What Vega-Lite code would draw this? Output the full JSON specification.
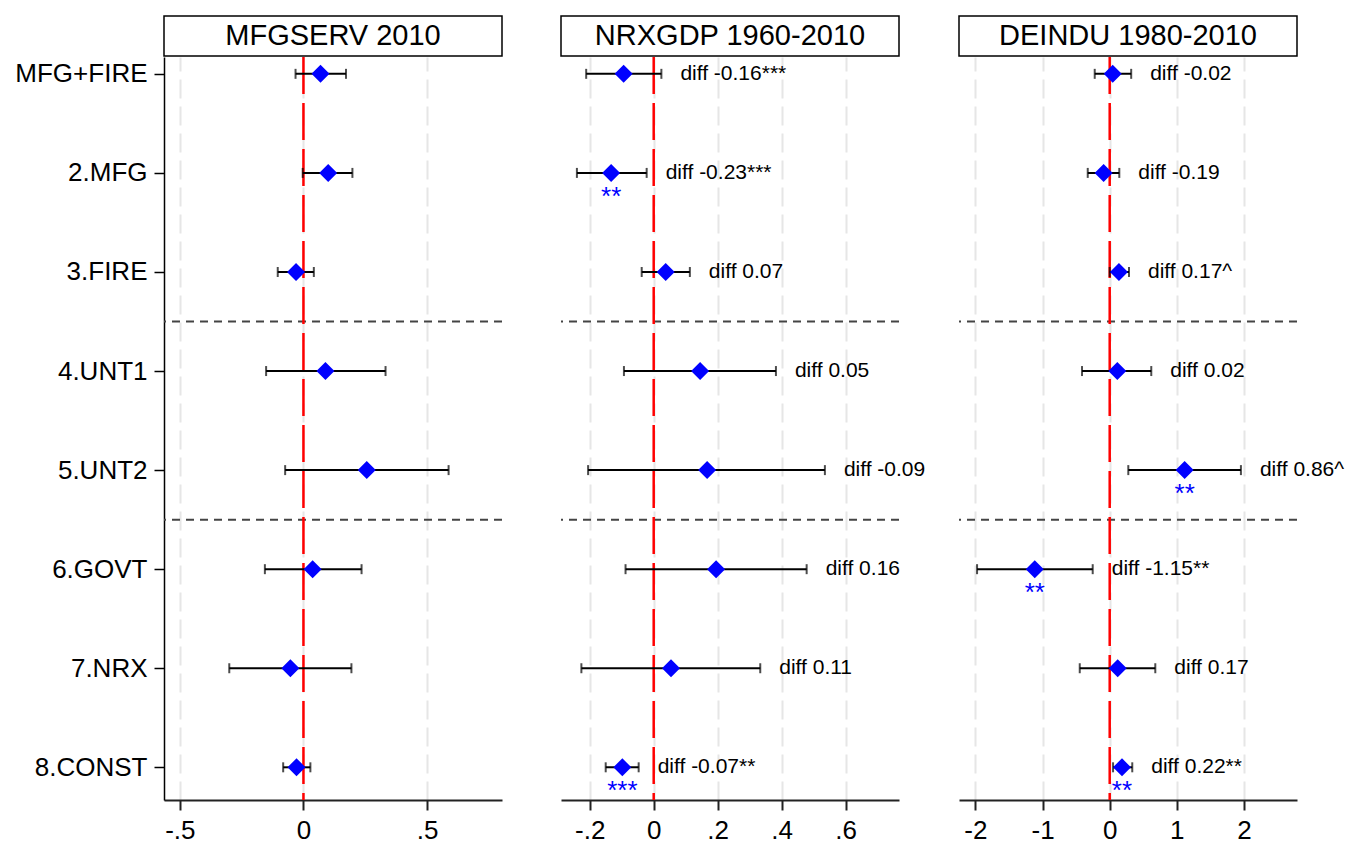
{
  "$schema": "https://vega.github.io/schema/vega-lite/v6.json",
  "background": "white",
  "padding": {"left": 14, "top": 15, "right": 0, "bottom": 0},
  "autosize": {"type": "pad"},
  "config": {
    "font": "Liberation Sans",
    "view": {"stroke": null}
  },
  "datasets": {
    "p1": [
      {"row": 1, "est": 0.069, "lo": -0.032, "hi": 0.172},
      {"row": 2, "est": 0.100, "lo": -0.003, "hi": 0.198},
      {"row": 3, "est": -0.030, "lo": -0.104, "hi": 0.042},
      {"row": 4, "est": 0.089, "lo": -0.151, "hi": 0.332},
      {"row": 5, "est": 0.256, "lo": -0.074, "hi": 0.587},
      {"row": 6, "est": 0.037, "lo": -0.156, "hi": 0.235},
      {"row": 7, "est": -0.053, "lo": -0.300, "hi": 0.194},
      {"row": 8, "est": -0.028, "lo": -0.082, "hi": 0.028}
    ],
    "p2": [
      {"row": 1, "est": -0.094, "lo": -0.211, "hi": 0.024, "diff": "diff -0.16***", "stars": ""},
      {"row": 2, "est": -0.133, "lo": -0.240, "hi": -0.022, "diff": "diff -0.23***", "stars": "**"},
      {"row": 3, "est": 0.0375, "lo": -0.0375, "hi": 0.113, "diff": "diff 0.07", "stars": ""},
      {"row": 4, "est": 0.145, "lo": -0.093, "hi": 0.382, "diff": "diff 0.05", "stars": ""},
      {"row": 5, "est": 0.167, "lo": -0.205, "hi": 0.535, "diff": "diff -0.09", "stars": ""},
      {"row": 6, "est": 0.195, "lo": -0.088, "hi": 0.478, "diff": "diff 0.16", "stars": ""},
      {"row": 7, "est": 0.054, "lo": -0.226, "hi": 0.333, "diff": "diff 0.11", "stars": ""},
      {"row": 8, "est": -0.098, "lo": -0.150, "hi": -0.047, "diff": "diff -0.07**", "stars": "***"}
    ],
    "p3": [
      {"row": 1, "est": 0.045, "lo": -0.223, "hi": 0.320, "diff": "diff -0.02", "stars": ""},
      {"row": 2, "est": -0.090, "lo": -0.327, "hi": 0.143, "diff": "diff -0.19", "stars": ""},
      {"row": 3, "est": 0.138, "lo": 0.000, "hi": 0.287, "diff": "diff 0.17^", "stars": ""},
      {"row": 4, "est": 0.113, "lo": -0.412, "hi": 0.619, "diff": "diff 0.02", "stars": ""},
      {"row": 5, "est": 1.116, "lo": 0.277, "hi": 1.954, "diff": "diff 0.86^", "stars": "**"},
      {"row": 6, "est": -1.116, "lo": -1.975, "hi": -0.253, "diff": "diff -1.15**", "stars": "**"},
      {"row": 7, "est": 0.119, "lo": -0.446, "hi": 0.679, "diff": "diff 0.17", "stars": ""},
      {"row": 8, "est": 0.183, "lo": 0.050, "hi": 0.336, "diff": "diff 0.22**", "stars": "**"}
    ]
  },
  "spacing": 57,
  "hconcat": [
    {
      "spacing": -2,
      "vconcat": [
        {
          "width": 338, "height": 40,
          "view": {"stroke": "black", "strokeWidth": 1.5},
          "data": {"values": [{"panel": "MFGSERV 2010"}]},
          "mark": {"type": "text", "fontSize": 29, "baseline": "middle", "color": "black"},
          "encoding": {
            "x": {"field": "panel", "type": "nominal", "axis": null},
            "y": {"field": "panel", "type": "nominal", "axis": null},
            "text": {"field": "panel"}
          }
        },
        {
          "width": 338, "height": 743,
          "data": {"name": "p1"},
          "encoding": {
            "x": {"field": "est", "type": "quantitative", "title": null, "scale": {"domain": [-0.564, 0.803], "nice": false, "zero": false},
                  "axis": {"values": [-0.5, 0, 0.5], "labelExpr": "replace(replace(format(datum.value, '~g'), '\u2212', '-'), '0.', '.')", "labelFontSize": 26, "labelColor": "black", "tickSize": 10, "labelPadding": 7, "domainColor": "#222", "tickColor": "#222", "domainWidth": 2, "tickWidth": 2, "grid": true, "gridColor": "#e6e6e6", "gridWidth": 2, "gridDash": [19, 8], "labelFlush": false}},
            "y": {"field": "row", "type": "quantitative", "title": null, "scale": {"domain": [0.83, 8.33], "reverse": true, "nice": false, "zero": false},
                  "axis": {"values": [1, 2, 3, 4, 5, 6, 7, 8], "labelExpr": "['', 'MFG+FIRE', '2.MFG', '3.FIRE', '4.UNT1', '5.UNT2', '6.GOVT', '7.NRX', '8.CONST'][datum.value]", "labelFontSize": 26, "labelColor": "black", "tickSize": 10, "labelPadding": 7, "domainColor": "black", "tickColor": "black", "domainWidth": 1.5, "tickWidth": 1.5, "grid": false}}
          },
          "layer": [
            {"data": {"values": [{"row": 3.5}, {"row": 5.5}]}, "mark": {"type": "rule", "color": "#444", "strokeDash": [8, 6], "strokeWidth": 2}, "encoding": {"x": null}},
            {"data": {"values": [{"est": 0}]}, "mark": {"type": "rule", "color": "#ff0000", "strokeDash": [37, 9], "strokeWidth": 2.5}, "encoding": {"y": null}},
            {"mark": {"type": "rule", "color": "black", "strokeWidth": 2}, "encoding": {"x": {"field": "lo", "type": "quantitative", "title": null}, "x2": {"field": "hi"}}},
            {"mark": {"type": "tick", "orient": "vertical", "color": "black", "size": 10, "thickness": 2}, "encoding": {"x": {"field": "lo", "type": "quantitative", "title": null}}},
            {"mark": {"type": "tick", "orient": "vertical", "color": "black", "size": 10, "thickness": 2}, "encoding": {"x": {"field": "hi", "type": "quantitative", "title": null}}},
            {"mark": {"type": "point", "shape": "diamond", "filled": true, "color": "#0000ff", "size": 324, "opacity": 1}}
          ]
        }
      ]
    },
    {
      "spacing": 32,
      "hconcat": [
        {
          "spacing": -2,
          "vconcat": [
            {
              "width": 338, "height": 40,
              "view": {"stroke": "black", "strokeWidth": 1.5},
              "data": {"values": [{"panel": "NRXGDP 1960-2010"}]},
              "mark": {"type": "text", "fontSize": 29, "baseline": "middle", "color": "black"},
              "encoding": {
                "x": {"field": "panel", "type": "nominal", "axis": null},
                "y": {"field": "panel", "type": "nominal", "axis": null},
                "text": {"field": "panel"}
              }
            },
            {
              "width": 338, "height": 743,
              "data": {"name": "p2"},
              "encoding": {
                "x": {"field": "est", "type": "quantitative", "title": null, "scale": {"domain": [-0.2897, 0.7666], "nice": false, "zero": false},
                      "axis": {"values": [-0.2, 0, 0.2, 0.4, 0.6], "labelExpr": "replace(replace(format(datum.value, '~g'), '\u2212', '-'), '0.', '.')", "labelFontSize": 26, "labelColor": "black", "tickSize": 10, "labelPadding": 7, "domainColor": "#222", "tickColor": "#222", "domainWidth": 2, "tickWidth": 2, "grid": true, "gridColor": "#e6e6e6", "gridWidth": 2, "gridDash": [19, 8], "labelFlush": false}},
                "y": {"field": "row", "type": "quantitative", "title": null, "scale": {"domain": [0.83, 8.33], "reverse": true, "nice": false, "zero": false}, "axis": null}
              },
              "layer": [
                {"data": {"values": [{"row": 3.5}, {"row": 5.5}]}, "mark": {"type": "rule", "color": "#444", "strokeDash": [8, 6], "strokeWidth": 2}, "encoding": {"x": null}},
                {"data": {"values": [{"est": 0}]}, "mark": {"type": "rule", "color": "#ff0000", "strokeDash": [37, 9], "strokeWidth": 2.5}, "encoding": {"y": null}},
                {"mark": {"type": "rule", "color": "black", "strokeWidth": 2}, "encoding": {"x": {"field": "lo", "type": "quantitative", "title": null}, "x2": {"field": "hi"}}},
                {"mark": {"type": "tick", "orient": "vertical", "color": "black", "size": 10, "thickness": 2}, "encoding": {"x": {"field": "lo", "type": "quantitative", "title": null}}},
                {"mark": {"type": "tick", "orient": "vertical", "color": "black", "size": 10, "thickness": 2}, "encoding": {"x": {"field": "hi", "type": "quantitative", "title": null}}},
                {"mark": {"type": "point", "shape": "diamond", "filled": true, "color": "#0000ff", "size": 324, "opacity": 1}},
                {"mark": {"type": "text", "align": "left", "baseline": "middle", "dx": 19, "fontSize": 21, "color": "black"},
                 "encoding": {"x": {"field": "hi", "type": "quantitative", "title": null}, "text": {"field": "diff"}}},
                {"transform": [{"filter": "datum.stars !== ''"}],
                 "mark": {"type": "text", "align": "center", "baseline": "alphabetic", "dy": 32, "fontSize": 26, "color": "#0000ff"},
                 "encoding": {"text": {"field": "stars"}}}
              ]
            }
          ]
        },
        {
          "spacing": -2,
          "vconcat": [
            {
              "width": 338, "height": 40,
              "view": {"stroke": "black", "strokeWidth": 1.5},
              "data": {"values": [{"panel": "DEINDU 1980-2010"}]},
              "mark": {"type": "text", "fontSize": 29, "baseline": "middle", "color": "black"},
              "encoding": {
                "x": {"field": "panel", "type": "nominal", "axis": null},
                "y": {"field": "panel", "type": "nominal", "axis": null},
                "text": {"field": "panel"}
              }
            },
            {
              "width": 338, "height": 743,
              "data": {"name": "p3"},
              "encoding": {
                "x": {"field": "est", "type": "quantitative", "title": null, "scale": {"domain": [-2.244, 2.789], "nice": false, "zero": false},
                      "axis": {"values": [-2, -1, 0, 1, 2], "labelExpr": "replace(replace(format(datum.value, '~g'), '\u2212', '-'), '0.', '.')", "labelFontSize": 26, "labelColor": "black", "tickSize": 10, "labelPadding": 7, "domainColor": "#222", "tickColor": "#222", "domainWidth": 2, "tickWidth": 2, "grid": true, "gridColor": "#e6e6e6", "gridWidth": 2, "gridDash": [19, 8], "labelFlush": false}},
                "y": {"field": "row", "type": "quantitative", "title": null, "scale": {"domain": [0.83, 8.33], "reverse": true, "nice": false, "zero": false}, "axis": null}
              },
              "layer": [
                {"data": {"values": [{"row": 3.5}, {"row": 5.5}]}, "mark": {"type": "rule", "color": "#444", "strokeDash": [8, 6], "strokeWidth": 2}, "encoding": {"x": null}},
                {"data": {"values": [{"est": 0}]}, "mark": {"type": "rule", "color": "#ff0000", "strokeDash": [37, 9], "strokeWidth": 2.5}, "encoding": {"y": null}},
                {"mark": {"type": "rule", "color": "black", "strokeWidth": 2}, "encoding": {"x": {"field": "lo", "type": "quantitative", "title": null}, "x2": {"field": "hi"}}},
                {"mark": {"type": "tick", "orient": "vertical", "color": "black", "size": 10, "thickness": 2}, "encoding": {"x": {"field": "lo", "type": "quantitative", "title": null}}},
                {"mark": {"type": "tick", "orient": "vertical", "color": "black", "size": 10, "thickness": 2}, "encoding": {"x": {"field": "hi", "type": "quantitative", "title": null}}},
                {"mark": {"type": "point", "shape": "diamond", "filled": true, "color": "#0000ff", "size": 324, "opacity": 1}},
                {"mark": {"type": "text", "align": "left", "baseline": "middle", "dx": 19, "fontSize": 21, "color": "black"},
                 "encoding": {"x": {"field": "hi", "type": "quantitative", "title": null}, "text": {"field": "diff"}}},
                {"transform": [{"filter": "datum.stars !== ''"}],
                 "mark": {"type": "text", "align": "center", "baseline": "alphabetic", "dy": 32, "fontSize": 26, "color": "#0000ff"},
                 "encoding": {"text": {"field": "stars"}}}
              ]
            }
          ]
        }
      ]
    }
  ]
}
